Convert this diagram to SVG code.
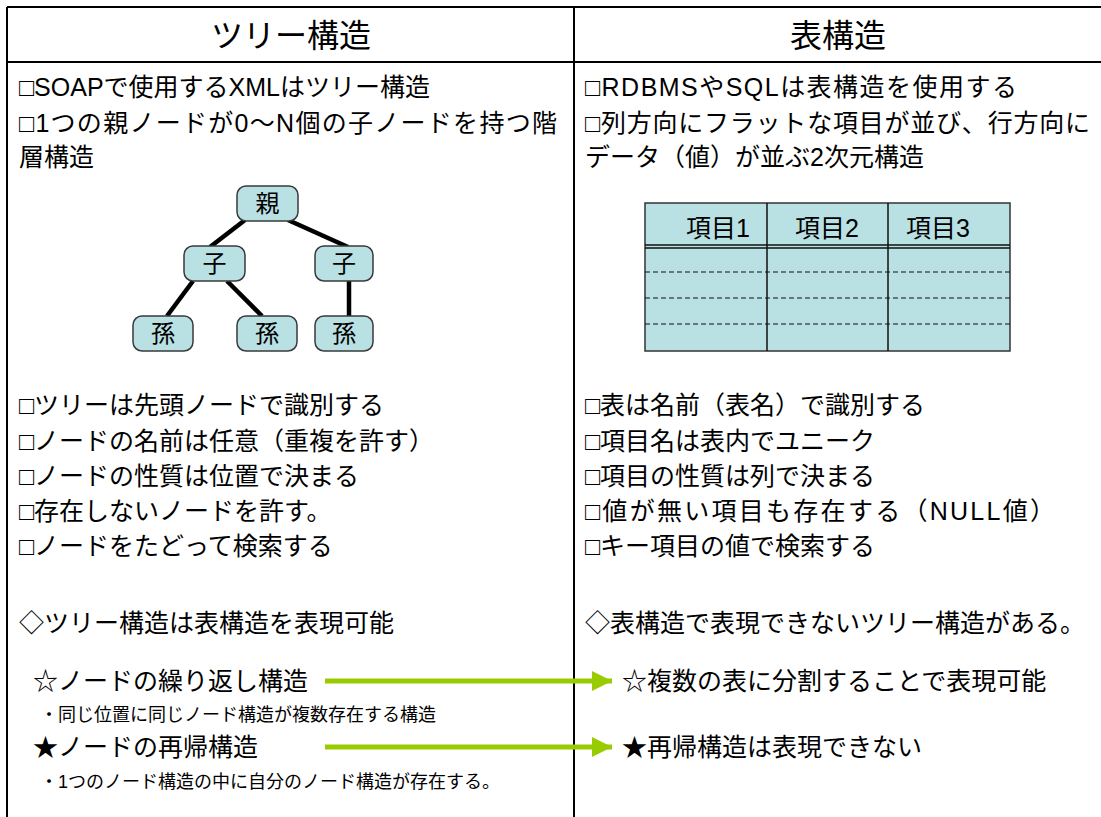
<svg xmlns="http://www.w3.org/2000/svg" width="1101" height="817" viewBox="0 0 1101 817">
<style>
text{font-family:"Liberation Sans","Noto Sans CJK JP",sans-serif;fill:#000}
.title{font-size:32px;text-anchor:middle}
.body{font-size:25px}
.small{font-size:18px}
.frame{stroke:#000;stroke-width:2;fill:none}
.node rect{fill:#b9e0e3;stroke:#3a3a3a;stroke-width:1.5}
.node text{font-size:24px;text-anchor:middle}
.edge{stroke:#000;stroke-width:4.5;stroke-linecap:butt}
.tbl{fill:#b9e0e3;stroke:#333;stroke-width:1.5}
.grid{stroke:#111;stroke-width:1.5}
.dash{stroke:#111;stroke-width:1.2;stroke-dasharray:5,3}
.arrow{stroke:#99cc00;stroke-width:5;fill:none}
</style>
<defs>
<marker id="ah" viewBox="0 0 10 10" refX="10" refY="5" markerWidth="4.4" markerHeight="4" markerUnits="strokeWidth" orient="auto">
<path d="M0,0 L10,5 L0,10 z" fill="#99cc00"/>
</marker>
</defs>
<g id="frame">
<line class="frame" x1="7" y1="7" x2="1101" y2="7"/>
<line class="frame" x1="7" y1="62" x2="1101" y2="62"/>
<line class="frame" x1="7" y1="7" x2="7" y2="817"/>
<line class="frame" x1="574" y1="7" x2="574" y2="817"/>
</g>
<g id="headers">
<text class="title" x="291" y="47">ツリー構造</text>
<text class="title" x="838" y="47">表構造</text>
</g>
<g id="left-text">
<text class="body" x="19" y="96">□SOAPで使用するXMLはツリー構造</text>
<text class="body" x="19" y="132" textLength="538" lengthAdjust="spacing">□1つの親ノードが0〜N個の子ノードを持つ階</text>
<text class="body" x="19" y="166">層構造</text>
<text class="body" x="19" y="414">□ツリーは先頭ノードで識別する</text>
<text class="body" x="19" y="450">□ノードの名前は任意（重複を許す）</text>
<text class="body" x="19" y="485">□ノードの性質は位置で決まる</text>
<text class="body" x="19" y="520">□存在しないノードを許す。</text>
<text class="body" x="19" y="555">□ノードをたどって検索する</text>
<text class="body" x="19" y="632">◇ツリー構造は表構造を表現可能</text>
<text class="body" x="33" y="690">☆ノードの繰り返し構造</text>
<text class="small" x="40" y="721">・同じ位置に同じノード構造が複数存在する構造</text>
<text class="body" x="33" y="756">★ノードの再帰構造</text>
<text class="small" x="40" y="788">・1つのノード構造の中に自分のノード構造が存在する。</text>
</g>
<g id="right-text">
<text class="body" x="585" y="96" textLength="432" lengthAdjust="spacing">□RDBMSやSQLは表構造を使用する</text>
<text class="body" x="585" y="132" textLength="505" lengthAdjust="spacing">□列方向にフラットな項目が並び、行方向に</text>
<text class="body" x="585" y="166">データ（値）が並ぶ2次元構造</text>
<text class="body" x="585" y="414">□表は名前（表名）で識別する</text>
<text class="body" x="585" y="450">□項目名は表内でユニーク</text>
<text class="body" x="585" y="485">□項目の性質は列で決まる</text>
<text class="body" x="585" y="520" textLength="470" lengthAdjust="spacing">□値が無い項目も存在する（NULL値）</text>
<text class="body" x="585" y="555">□キー項目の値で検索する</text>
<text class="body" x="585" y="632">◇表構造で表現できないツリー構造がある。</text>
<text class="body" x="622" y="690">☆複数の表に分割することで表現可能</text>
<text class="body" x="622" y="756">★再帰構造は表現できない</text>
</g>
<g id="tree-edges">
<line class="edge" x1="245" y1="220" x2="210" y2="247"/>
<line class="edge" x1="288" y1="220" x2="348" y2="247"/>
<line class="edge" x1="193" y1="281" x2="167" y2="316"/>
<line class="edge" x1="227" y1="281" x2="262" y2="316"/>
<line class="edge" x1="349" y1="281" x2="349" y2="316"/>
</g>
<g id="node-oya" class="node"><rect x="237" y="186" width="61" height="35" rx="9"/><text x="267.5" y="212">親</text></g>
<g id="node-ko1" class="node"><rect x="184" y="246" width="61" height="35" rx="9"/><text x="214.5" y="272">子</text></g>
<g id="node-ko2" class="node"><rect x="315" y="246" width="58" height="35" rx="9"/><text x="344" y="272">子</text></g>
<g id="node-mago1" class="node"><rect x="133" y="316" width="60" height="35" rx="9"/><text x="163" y="342">孫</text></g>
<g id="node-mago2" class="node"><rect x="237" y="316" width="60" height="35" rx="9"/><text x="267" y="342">孫</text></g>
<g id="node-mago3" class="node"><rect x="315" y="316" width="58" height="35" rx="9"/><text x="344" y="342">孫</text></g>
<g id="table">
<rect class="tbl" x="645" y="203" width="365" height="148"/>
<line class="grid" x1="767" y1="203" x2="767" y2="351"/>
<line class="grid" x1="888" y1="203" x2="888" y2="351"/>
<line class="grid" x1="645" y1="245" x2="1010" y2="245"/>
<line class="grid" x1="645" y1="248" x2="1010" y2="248"/>
<line class="dash" x1="645" y1="272" x2="1010" y2="272"/>
<line class="dash" x1="645" y1="298" x2="1010" y2="298"/>
<line class="dash" x1="645" y1="324" x2="1010" y2="324"/>
<text class="body" x="686" y="237" font-size="23">項目1</text>
<text class="body" x="795" y="237" font-size="23">項目2</text>
<text class="body" x="906" y="237" font-size="23">項目3</text>
</g>
<g id="connectors">
<line class="arrow" x1="325" y1="681" x2="612" y2="681" marker-end="url(#ah)"/>
<line class="arrow" x1="325" y1="747" x2="612" y2="747" marker-end="url(#ah)"/>
</g>
</svg>
